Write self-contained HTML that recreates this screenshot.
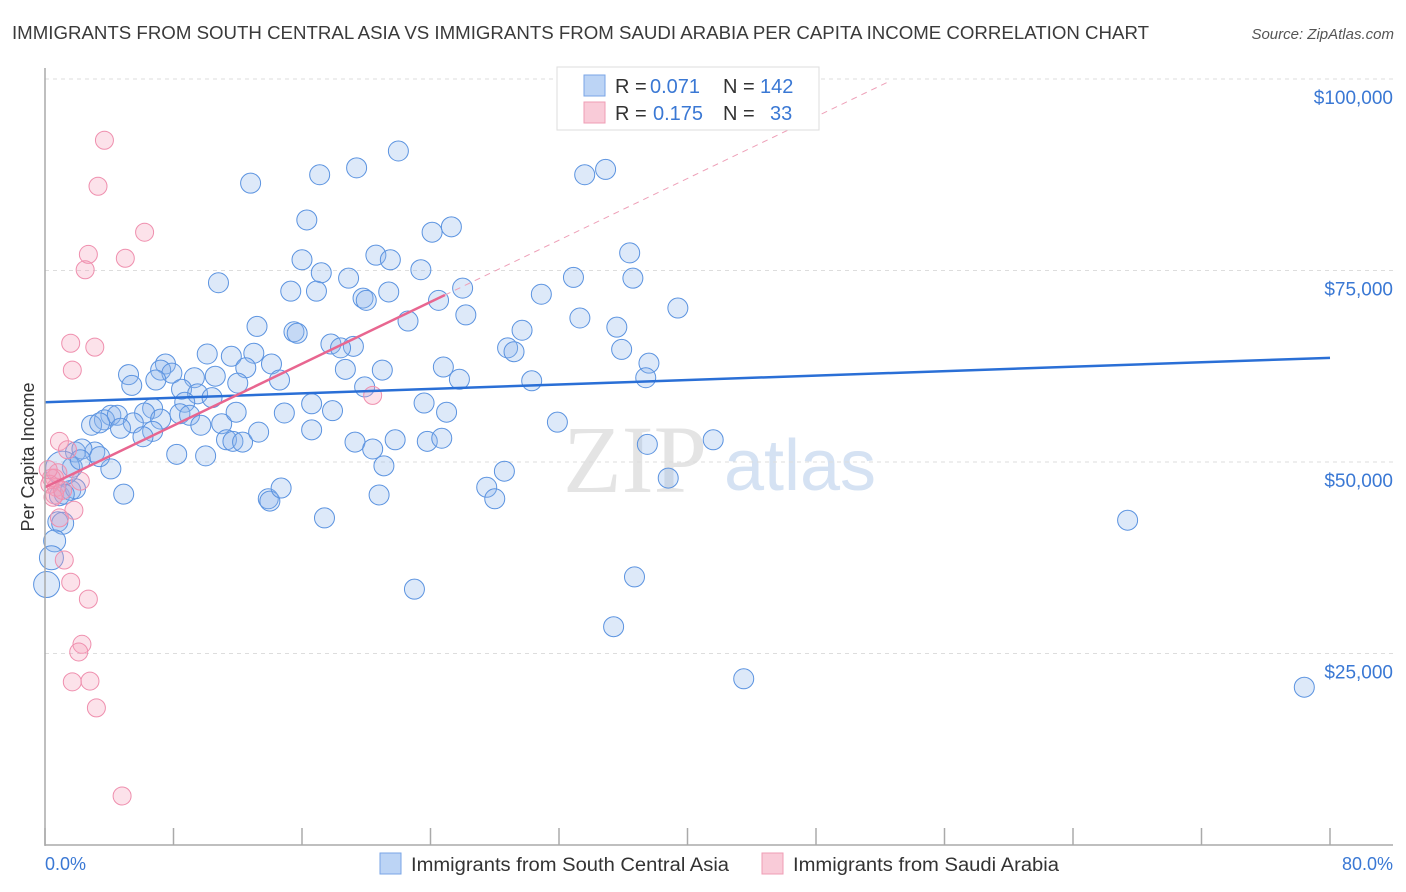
<!DOCTYPE html>
<html><head><meta charset="utf-8"><style>
body{margin:0;background:#fff;font-family:"Liberation Sans",sans-serif;}
#wrap{position:relative;width:1406px;height:892px;overflow:hidden}
</style></head><body><div id="wrap">
<svg id="chart" width="1406" height="892" xmlns="http://www.w3.org/2000/svg">
<text x="12" y="39" font-size="18" fill="#3a3a3a" textLength="1137" lengthAdjust="spacingAndGlyphs">IMMIGRANTS FROM SOUTH CENTRAL ASIA VS IMMIGRANTS FROM SAUDI ARABIA PER CAPITA INCOME CORRELATION CHART</text>
<text x="1394" y="39" font-size="15" fill="#555" text-anchor="end" font-style="italic">Source: ZipAtlas.com</text>
<text x="34" y="457" font-size="18" fill="#333" text-anchor="middle" transform="rotate(-90 34 457)">Per Capita Income</text>
<text x="635" y="492" font-size="96" fill="#e4e4e4" font-family="Liberation Serif,serif" text-anchor="middle">ZIP</text>
<text x="800" y="490" font-size="72" fill="#d5e2f3" text-anchor="middle">atlas</text>
<g id="grid"></g><g id="marks"></g><g id="lines"></g>
<line x1="45" y1="68" x2="45" y2="846" stroke="#aaa" stroke-width="1.5"/>
<line x1="45" y1="845" x2="1393" y2="845" stroke="#aaa" stroke-width="1.5"/>
<text x="45" y="870" font-size="18" fill="#3a78d4">0.0%</text>
<text x="1393" y="870" font-size="18" fill="#3a78d4" text-anchor="end">80.0%</text>
<g>
<rect x="380" y="853" width="21" height="21" fill="#bcd4f5" stroke="#7aa5e6"/>
<text x="411" y="871" font-size="19" fill="#333" textLength="318" lengthAdjust="spacingAndGlyphs">Immigrants from South Central Asia</text>
<rect x="762" y="853" width="21" height="21" fill="#f9cbd8" stroke="#ef9db5"/>
<text x="793" y="871" font-size="19" fill="#333" textLength="266" lengthAdjust="spacingAndGlyphs">Immigrants from Saudi Arabia</text>
</g>
<g>
<rect x="557" y="67" width="262" height="63" fill="#fff" stroke="#ddd"/>
<rect x="584" y="75" width="21" height="21" fill="#bcd4f5" stroke="#7aa5e6"/>
<text x="615" y="93" font-size="20" fill="#333">R =</text>
<text x="650" y="93" font-size="20" fill="#3a78d4">0.071</text>
<text x="723" y="93" font-size="20" fill="#333">N =</text>
<text x="760" y="93" font-size="20" fill="#3a78d4">142</text>
<rect x="584" y="102" width="21" height="21" fill="#f9cbd8" stroke="#ef9db5"/>
<text x="615" y="120" font-size="20" fill="#333">R =</text>
<text x="653" y="120" font-size="20" fill="#3a78d4">0.175</text>
<text x="723" y="120" font-size="20" fill="#333">N =</text>
<text x="770" y="120" font-size="20" fill="#3a78d4">33</text>
</g>
</svg></div>
<script>
const yTicks=[25000,50000,75000,100000];
const yTickLabels=["$25,000","$50,000","$75,000","$100,000"];
const xTicks=[0,8,16,24,32,40,48,56,64,72,80];
const blueX=[12.8,17.1,19.4,22.0,33.6,34.9,16.3,24.1,25.3,16.0,17.2,18.9,20.6,21.5,23.4,10.8,15.3,16.9,19.8,20.0,21.4,24.5,26.0,30.9,32.9,36.4,36.6,39.4,33.3,35.6,29.7,26.2,22.6,13.2,15.5,15.7,17.8,19.2,18.4,28.8,29.2,35.9,37.6,37.4,30.3,25.8,24.8,21.0,18.7,19.9,10.1,11.6,13.0,14.1,12.5,12.0,14.6,10.6,9.3,7.5,7.2,7.9,6.9,5.2,5.4,8.5,9.5,10.4,8.7,8.4,6.7,6.2,9.0,11.0,11.9,9.7,7.2,4.1,3.7,4.5,5.5,4.7,2.9,3.4,3.1,6.7,6.1,11.3,11.7,12.3,13.3,14.9,16.6,17.9,16.6,19.3,20.4,21.8,23.8,24.7,23.6,25.0,21.1,28.6,27.5,28.0,31.9,37.5,38.8,41.6,1.9,2.3,1.7,4.1,3.4,4.9,8.2,10.0,13.9,14.0,14.7,17.4,20.8,23.0,36.7,35.4,43.5,67.4,78.4,0.9,1.6,1.9,1.2,0.8,1.1,0.6,0.4,0.1,1.1,2.2];
const blueY=[86400,87500,88400,90600,87500,88200,81600,80000,80700,76400,74700,74000,77000,76400,75100,73400,72300,72300,71400,71100,72200,71100,72700,71900,74100,77300,74000,70100,68800,67600,67200,69200,68400,67700,67000,66800,65400,65100,64900,64900,64400,64700,62900,61000,60600,60800,62400,62000,62100,59800,64100,63800,64200,62800,62300,60300,60700,61200,61000,62800,62000,61600,60700,61400,60000,59500,58900,58400,57800,56300,57000,56400,56100,55000,56500,54800,55600,56100,55500,56100,55100,54400,54800,55100,51300,54000,53300,52900,52700,52600,53900,56400,57600,56700,54200,52600,51700,52900,52700,53100,57700,56500,49500,48800,46700,45200,55200,52300,47900,52900,51300,51700,49300,49100,50700,45800,51000,50800,45200,44900,46600,42700,45700,33400,35000,28500,21700,42400,20600,45600,46300,46500,45800,42200,42000,39700,37500,34000,49200,50300];
const blueSize=[1,1,1,1,1,1,1,1,1,1,1,1,1,1,1,1,1,1,1,1,1,1,1,1,1,1,1,1,1,1,1,1,1,1,1,1,1,1,1,1,1,1,1,1,1,1,1,1,1,1,1,1,1,1,1,1,1,1,1,1,1,1,1,1,1,1,1,1,1,1,1,1,1,1,1,1,1,1,1,1,1,1,1,1,1,1,1,1,1,1,1,1,1,1,1,1,1,1,1,1,1,1,1,1,1,1,1,1,1,1,1,1,1,1,1,1,1,1,1,1,1,1,1,1,1,1,1,1,1,1,1,1,1,1,1.1,1.1,1.2,1.3,1.7,1,1];
const pinkX=[3.7,3.3,6.2,2.7,5.0,2.5,1.6,3.1,1.7,0.9,1.4,0.8,0.6,0.7,0.6,0.4,0.3,2.2,1.8,0.9,1.2,1.6,2.7,2.3,2.1,1.7,2.8,3.2,4.8,20.4,0.2,0.5,1.1];
const pinkY=[92000,86000,80000,77100,76600,75100,65500,65000,62000,52700,51600,48600,47900,46700,45700,47900,47100,47500,43700,42700,37200,34300,32100,26200,25200,21300,21400,17900,6400,58700,49000,45400,46300];
const blueTrend=[57800,63600];
const pinkTrend=[46700,1008];
const NS="http://www.w3.org/2000/svg";
const X=p=>45+p/80*1285;
const Y=v=>462-(v-50000)/25000*191.5;
const grid=document.getElementById('grid'),marks=document.getElementById('marks'),lines=document.getElementById('lines');
function mk(tag,a,parent){const e=document.createElementNS(NS,tag);for(const k in a)e.setAttribute(k,a[k]);parent.appendChild(e);return e;}
yTicks.forEach((v,i)=>{
 const l=mk('line',{x1:45,x2:1393,y1:Y(v),y2:Y(v),stroke:'#ddd','stroke-dasharray':'4,4'},grid);
 
 
 const t=mk('text',{x:1393,y:Y(v)+25,'font-size':19,fill:'#3a78d4','text-anchor':'end'},grid);
 t.textContent=yTickLabels[i];
 
 
});
xTicks.forEach(p=>{
 const l=mk('line',{x1:X(p),x2:X(p),y1:828,y2:845,stroke:'#aaa','stroke-width':1.5},grid);
 
 
});
blueX.forEach((p,i)=>{
 const c=mk('circle',{cx:X(p),cy:Y(blueY[i]),r:10*blueSize[i],fill:'rgba(142,182,236,0.3)',stroke:'#5b93e0','stroke-width':1},marks);
 
 
});
pinkX.forEach((p,i)=>{
 const c=mk('circle',{cx:X(p),cy:Y(pinkY[i]),r:9,fill:'rgba(244,160,186,0.3)',stroke:'#ef8fae','stroke-width':1},marks);
 
 
});
const bt=mk('line',{x1:X(0),y1:Y(blueTrend[0]),x2:X(80),y2:Y(blueTrend[1]),stroke:'#2a6fd6','stroke-width':2.5},lines);


const pv=x=>pinkTrend[0]+pinkTrend[1]*x;
const pt=mk('line',{x1:X(0),y1:Y(pv(0)),x2:X(24.9),y2:Y(pv(24.9)),stroke:'#e86690','stroke-width':2.5},lines);


const pd=mk('line',{x1:X(24.9),y1:Y(pv(24.9)),x2:X(52.6),y2:Y(pv(52.6)),stroke:'#eea0b8','stroke-width':1,'stroke-dasharray':'6,5'},lines);


</script></body></html>
